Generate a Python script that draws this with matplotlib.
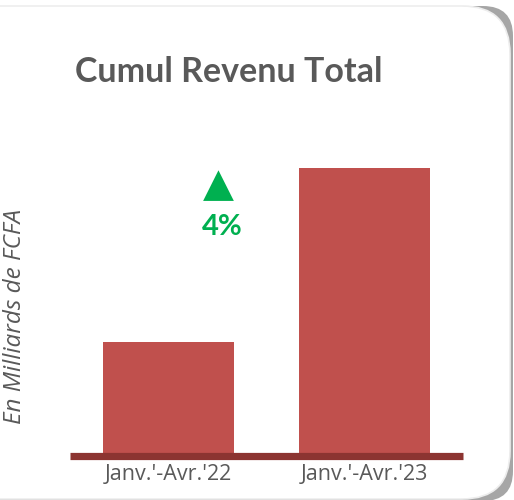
import matplotlib
matplotlib.use("Agg")
import matplotlib.pyplot as plt
from matplotlib.patches import FancyBboxPatch
from matplotlib.transforms import IdentityTransform

# data
periods = ["Janv.'-Avr.'22", "Janv.'-Avr.'23"]
revenue = [1010, 1050]
growth_label = "4%"
axis_min = 983.8
axis_max = 1061

W, H = 514, 500
fig = plt.figure(figsize=(W / 100, H / 100), dpi=100)
fig.patch.set_facecolor("white")

# rounded frame, grey shadow only shows at the right corners
shadow = FancyBboxPatch((-60, -1), 573, H - 5, boxstyle="round,pad=0,rounding_size=30",
                        transform=IdentityTransform(), facecolor="#A6A6A6",
                        edgecolor="none", zorder=0)
card = FancyBboxPatch((-60, 1), 570, H - 7, boxstyle="round,pad=0,rounding_size=48",
                      transform=IdentityTransform(), facecolor="white",
                      edgecolor="#EDEDED", linewidth=1.2, zorder=1)
fig.patches.extend([shadow, card])

ax = fig.add_axes([70 / W, 1 - 456 / H, (463 - 70) / W, (456 - 120) / H])
ax.set_zorder(5)
ax.set_facecolor("none")
x = range(len(periods))
ax.bar(x, revenue, width=0.668, color="#C0504D", zorder=2)
ax.set_xlim(-0.5, 1.5)
ax.set_ylim(axis_min, axis_max)
ax.axhline(axis_min, color="#8C3431", linewidth=5.2, clip_on=False, zorder=3,
           solid_capstyle="butt")

for s in ax.spines.values():
    s.set_visible(False)
ax.set_yticks([])
ax.set_xticks(list(x))
ax.set_xticklabels(periods, fontsize=15.5, color="#595959", family="Open Sans")
ax.tick_params(axis="x", length=0, pad=6)

fig.text(75 / W, 1 - 72 / H, "Cumul Revenu Total", fontsize=24.5, fontweight="bold",
         color="#595959", family="Lato", ha="left", va="center", zorder=6)
fig.text(15 / W, 1 - 316 / H, "En Milliards de FCFA", rotation=90, fontsize=17.5,
         style="italic", color="#595959", family="Open Sans", ha="center", va="center",
         zorder=6)

# growth marker
fig.text(218 / W, 1 - 185 / H, "\u25B2", fontsize=29, color="#00B050",
         ha="center", va="center", family="DejaVu Sans", zorder=6)
fig.text(222 / W, 1 - 227 / H, growth_label, fontsize=21, fontweight="bold",
         color="#00B050", family="Lato", ha="center", va="center", zorder=6)

fig.savefig("out.png", dpi=100, facecolor="white")
